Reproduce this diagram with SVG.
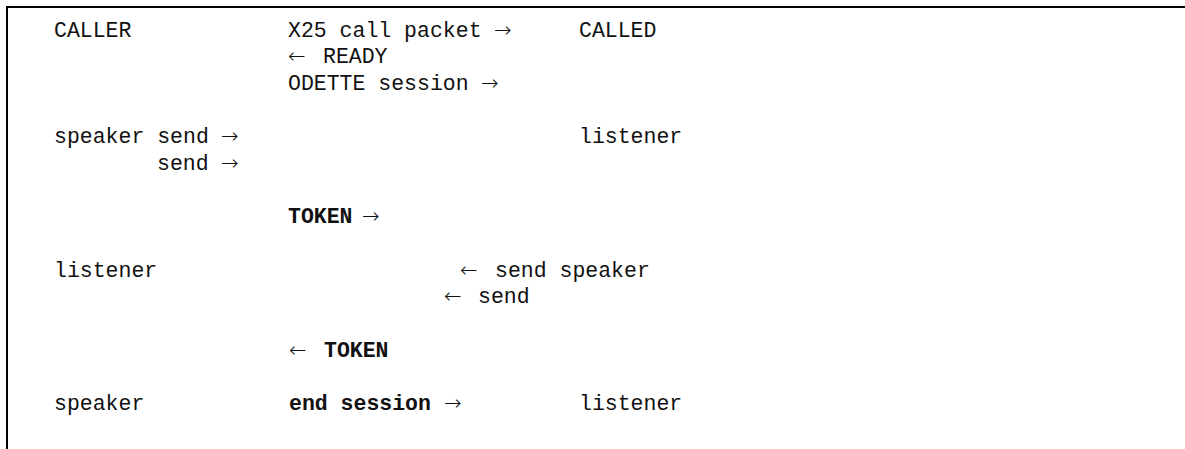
<svg xmlns="http://www.w3.org/2000/svg" width="1185" height="449" viewBox="0 0 1185 449">
<style>
.t{font-family:"Liberation Mono","Courier New",monospace;font-size:21.5px;fill:#111}
.b{font-weight:bold}
.a{font-family:"DejaVu Sans",sans-serif;font-weight:200;font-size:21px;fill:#111}
.frame{fill:none;stroke:#000;stroke-width:2}
</style>
<rect width="1185" height="449" fill="#fff"/>
<path id="frame" class="frame" d="M7,449 V7 H1185"/>
<g id="row-caller">
<text class="t" x="54" y="36.7">CALLER</text>
<text class="t" x="288" y="36.7">X25 call packet</text>
<text class="a" x="494" y="36.7">→</text>
<text class="t" x="579" y="36.7">CALLED</text>
</g>
<g id="row-ready">
<text class="a" x="288" y="63.3">←</text>
<text class="t" x="323" y="63.3">READY</text>
</g>
<g id="row-odette">
<text class="t" x="288" y="90">ODETTE session</text>
<text class="a" x="481" y="90">→</text>
</g>
<g id="row-speaker1">
<text class="t" x="54" y="143.3">speaker send</text>
<text class="a" x="221" y="143.3">→</text>
<text class="t" x="579" y="143.3">listener</text>
</g>
<g id="row-send1">
<text class="t" x="157" y="170">send</text>
<text class="a" x="221" y="170">→</text>
</g>
<g id="row-token1">
<text class="t b" x="288" y="223.3">TOKEN</text>
<text class="a" x="362" y="223.3">→</text>
</g>
<g id="row-listener1">
<text class="t" x="54" y="276.7">listener</text>
<text class="a" x="460" y="276.7">←</text>
<text class="t" x="495" y="276.7">send speaker</text>
</g>
<g id="row-send2">
<text class="a" x="444" y="303.3">←</text>
<text class="t" x="478" y="303.3">send</text>
</g>
<g id="row-token2">
<text class="a" x="289" y="356.7">←</text>
<text class="t b" x="324" y="356.7">TOKEN</text>
</g>
<g id="row-end">
<text class="t" x="54" y="410">speaker</text>
<text class="t b" x="289" y="410">end session</text>
<text class="a" x="444" y="410">→</text>
<text class="t" x="579" y="410">listener</text>
</g>
</svg>
